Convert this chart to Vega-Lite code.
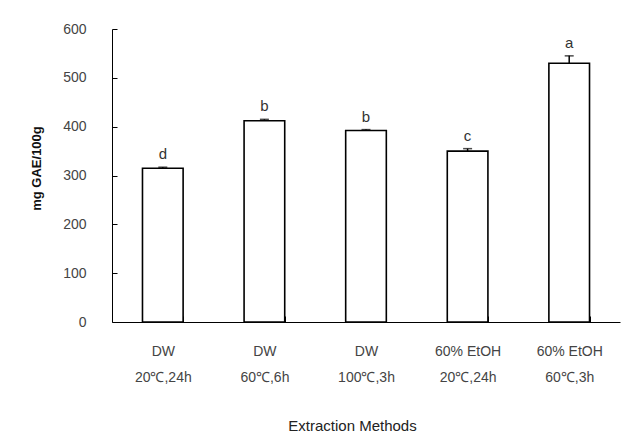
{
  "$schema": "https://vega.github.io/schema/vega-lite/v6.json",
  "autosize": "none",
  "width": 508,
  "height": 293,
  "padding": {"left": 112, "top": 29, "right": 20, "bottom": 117},
  "background": "white",
  "config": {"view": {"stroke": null}, "font": "Liberation Sans"},
  "data": {
    "values": [
      {"method": "DW\n20℃,24h", "value": 315, "upper": 317, "group": "d"},
      {"method": "DW\n60℃,6h", "value": 412, "upper": 415, "group": "b"},
      {"method": "DW\n100℃,3h", "value": 392, "upper": 394, "group": "b"},
      {"method": "60% EtOH\n20℃,24h", "value": 350, "upper": 355, "group": "c"},
      {"method": "60% EtOH\n60℃,3h", "value": 530, "upper": 545, "group": "a"}
    ]
  },
  "encoding": {
    "x": {
      "field": "method",
      "type": "nominal",
      "sort": null,
      "scale": {"paddingInner": 0.6, "paddingOuter": 0.3},
      "axis": {
        "title": "Extraction Methods",
        "titleFontSize": 15,
        "titleFontWeight": "normal",
        "titleColor": "#222",
        "titleX": 240,
        "titleY": 103,
        "titleBaseline": "middle",
        "labelExpr": "split(datum.label, '\\n')",
        "labelAngle": 0,
        "labelFontSize": 14,
        "labelColor": "#444",
        "labelLineHeight": 26,
        "labelBaseline": "top",
        "labelPadding": 28,
        "tickBand": "extent",
        "tickSize": -6,
        "tickColor": "black",
        "domainColor": "black",
        "grid": false
      }
    }
  },
  "layer": [
    {
      "mark": {"type": "bar", "fill": "white", "stroke": "black", "strokeWidth": 1.6},
      "encoding": {
        "y": {
          "field": "value",
          "type": "quantitative",
          "scale": {"domain": [0, 600], "nice": false},
          "axis": {
            "values": [0, 100, 200, 300, 400, 500, 600],
            "title": "mg GAE/100g",
            "titleFontSize": 13,
            "titleFontWeight": "bold",
            "titleColor": "#111",
            "titleX": -76,
            "titleY": 139,
            "titleBaseline": "middle",
            "titleAlign": "center",
            "labelFontSize": 14,
            "labelColor": "#444",
            "labelPadding": 31,
            "tickSize": -5,
            "tickColor": "black",
            "domainColor": "black",
            "grid": false
          }
        }
      }
    },
    {
      "mark": {"type": "rule", "color": "black", "strokeWidth": 1.5},
      "encoding": {
        "y": {"field": "value", "type": "quantitative"},
        "y2": {"field": "upper"}
      }
    },
    {
      "mark": {"type": "tick", "color": "black", "thickness": 1.5, "size": 9},
      "encoding": {"y": {"field": "upper", "type": "quantitative"}}
    },
    {
      "mark": {"type": "text", "dy": -13, "fontSize": 15, "color": "#333", "baseline": "middle"},
      "encoding": {
        "y": {"field": "upper", "type": "quantitative"},
        "text": {"field": "group"}
      }
    }
  ]
}
